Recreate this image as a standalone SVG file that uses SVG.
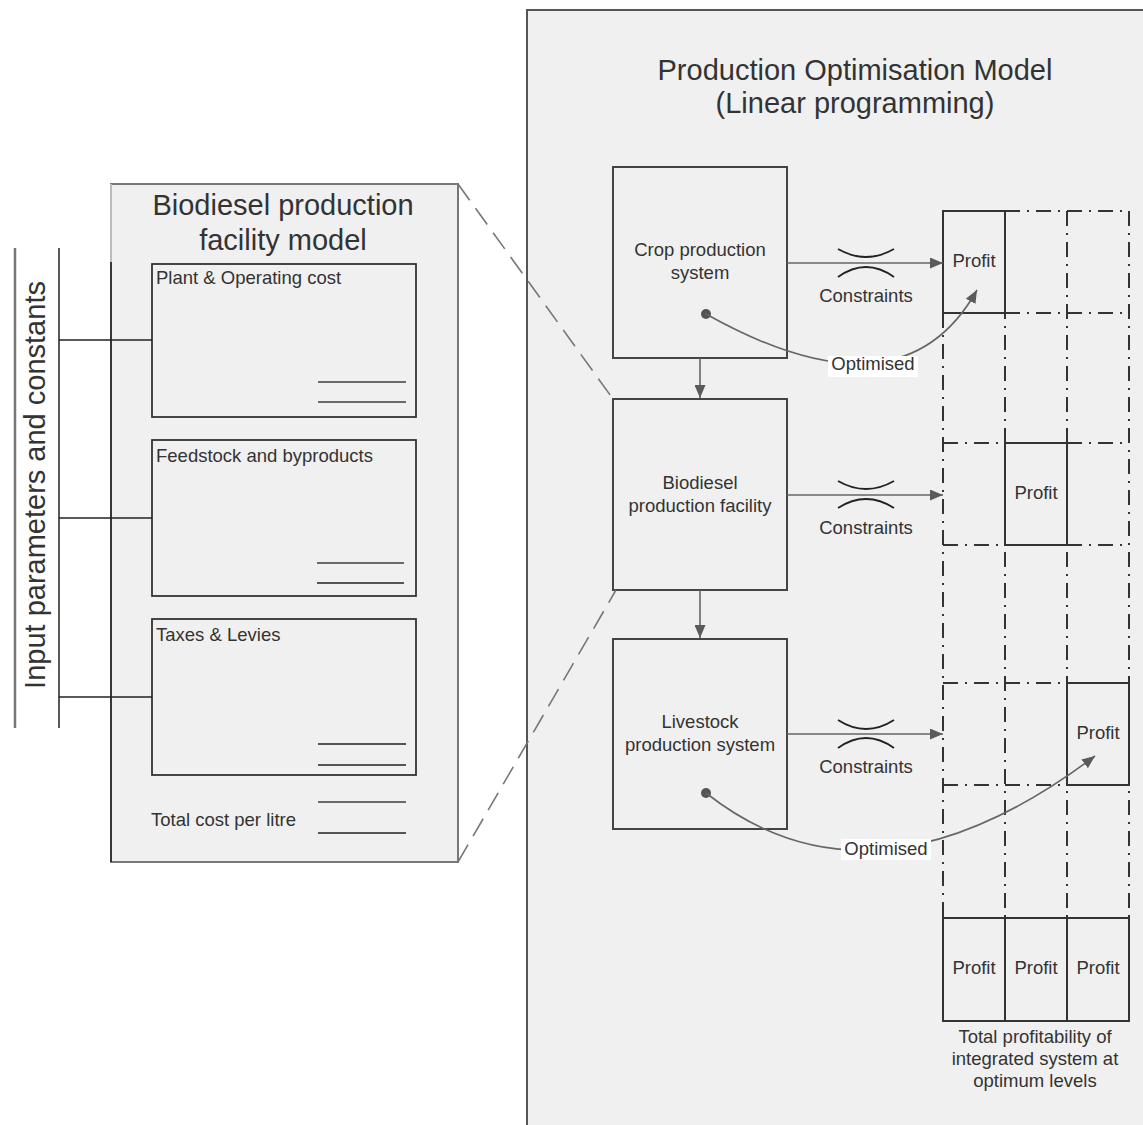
<svg xmlns="http://www.w3.org/2000/svg" width="1143" height="1125" viewBox="0 0 1143 1125">
<style>
text{font-family:"Liberation Sans",Arial,sans-serif;fill:#333}
.t{font-size:29px}
.s{font-size:18.5px}
.m{text-anchor:middle}
.box{fill:#f0f0f0;stroke:#444;stroke-width:2}
.sol{fill:none;stroke:#333;stroke-width:2}
.dd{fill:none;stroke:#333;stroke-width:2;stroke-dasharray:15 7 2 7}
.arr{fill:none;stroke:#666;stroke-width:1.6}
.arc{fill:none;stroke:#222;stroke-width:1.8}
.ln{stroke:#222;stroke-width:1.5}
.gl{stroke:#6a6a6a;stroke-width:2}
.zoomline{fill:none;stroke:#777;stroke-width:1.6;stroke-dasharray:20 10}
</style>
<defs>
<marker id="ah" viewBox="0 0 13 11" refX="13" refY="5.5" markerWidth="13" markerHeight="11" markerUnits="userSpaceOnUse" orient="auto">
<path d="M0,0 L13,5.5 L0,11 z" fill="#5a5a5a"/>
</marker>
</defs>
<rect width="1143" height="1125" fill="#fff"/>

<g id="optimisation-model">
<rect x="527" y="10" width="640" height="1130" fill="#f0f0f0" stroke="#555" stroke-width="2"/>
<text class="t m" x="855" y="80">Production Optimisation Model</text>
<text class="t m" x="855" y="113">(Linear programming)</text>
</g>

<g id="input-parameters">
<line x1="15" y1="248" x2="15" y2="728" stroke="#777" stroke-width="2.5"/>
<line x1="59" y1="248" x2="59" y2="728" class="ln"/>
<text class="t m" transform="translate(45,485) rotate(-90)">Input parameters and constants</text>
</g>

<g id="facility-model">
<rect x="111" y="184" width="347" height="678" fill="#f0f0f0" stroke="#777" stroke-width="2"/>
<line x1="111" y1="184" x2="111" y2="262" stroke="#bbb" stroke-width="2"/>
<line x1="111" y1="262" x2="111" y2="862" class="ln"/>
<text class="t m" x="283" y="215">Biodiesel production</text>
<text class="t m" x="283" y="250">facility model</text>
</g>

<g id="plant-cost">
<rect x="152" y="264" width="264" height="153" fill="none" stroke="#333" stroke-width="1.8"/>
<text class="s" x="156" y="284">Plant &amp; Operating cost</text>
<line x1="318" y1="382" x2="406" y2="382" class="gl"/>
<line x1="318" y1="402" x2="406" y2="402" class="gl"/>
</g>

<g id="feedstock">
<rect x="152" y="440" width="264" height="156" fill="none" stroke="#333" stroke-width="1.8"/>
<text class="s" x="156" y="462">Feedstock and byproducts</text>
<line x1="317" y1="563" x2="404" y2="563" class="gl"/>
<line x1="317" y1="583" x2="404" y2="583" class="ln"/>
</g>

<g id="taxes">
<rect x="152" y="619" width="264" height="156" fill="none" stroke="#333" stroke-width="1.8"/>
<text class="s" x="156" y="641">Taxes &amp; Levies</text>
<line x1="318" y1="744" x2="406" y2="744" class="ln"/>
<line x1="318" y1="765" x2="406" y2="765" class="ln"/>
</g>

<g id="total-cost">
<text class="s" x="151" y="826">Total cost per litre</text>
<line x1="318" y1="802" x2="406" y2="802" class="gl"/>
<line x1="318" y1="833" x2="406" y2="833" class="ln"/>
</g>

<g id="crop">
<rect class="box" x="613" y="167" width="174" height="191"/>
<text class="s m" x="700" y="256">Crop production</text>
<text class="s m" x="700" y="279">system</text>
</g>

<g id="biodiesel">
<rect class="box" x="613" y="399" width="174" height="191"/>
<text class="s m" x="700" y="489">Biodiesel</text>
<text class="s m" x="700" y="512">production facility</text>
</g>

<g id="livestock">
<rect class="box" x="613" y="639" width="174" height="190"/>
<text class="s m" x="700" y="728">Livestock</text>
<text class="s m" x="700" y="751">production system</text>
</g>

<g id="profit-grid">
<line class="dd" x1="943" y1="313" x2="943" y2="917"/>
<line class="dd" x1="1005" y1="211" x2="1005" y2="917"/>
<line class="dd" x1="1067" y1="211" x2="1067" y2="917"/>
<line class="dd" x1="1129" y1="211" x2="1129" y2="917"/>
<line class="dd" x1="1005" y1="211" x2="1129" y2="211"/>
<line class="dd" x1="1005" y1="313" x2="1129" y2="313"/>
<line class="dd" x1="943" y1="443" x2="1129" y2="443"/>
<line class="dd" x1="943" y1="545" x2="1129" y2="545"/>
<line class="dd" x1="943" y1="683" x2="1129" y2="683"/>
<line class="dd" x1="943" y1="785" x2="1129" y2="785"/>
</g>

<g id="profit-crop">
<rect class="sol" x="943" y="211" width="62" height="102"/>
<text class="s m" x="974" y="267">Profit</text>
</g>
<g id="profit-biodiesel">
<rect class="sol" x="1005" y="443" width="62" height="102"/>
<text class="s m" x="1036" y="499">Profit</text>
</g>
<g id="profit-livestock">
<rect class="sol" x="1067" y="683" width="62" height="102"/>
<text class="s m" x="1098" y="739">Profit</text>
</g>

<g id="profit-total">
<rect class="sol" x="943" y="918" width="62" height="103"/>
<rect class="sol" x="1005" y="918" width="62" height="103"/>
<rect class="sol" x="1067" y="918" width="62" height="103"/>
<text class="s m" x="974" y="974">Profit</text>
<text class="s m" x="1036" y="974">Profit</text>
<text class="s m" x="1098" y="974">Profit</text>
<text class="s m" x="1035" y="1043">Total profitability of</text>
<text class="s m" x="1035" y="1065">integrated system at</text>
<text class="s m" x="1035" y="1087">optimum levels</text>
</g>

<g id="connectors">
<line x1="59" y1="340" x2="152" y2="340" class="ln"/>
<line x1="59" y1="518" x2="152" y2="518" class="ln"/>
<line x1="59" y1="697" x2="152" y2="697" class="ln"/>
<line class="zoomline" x1="458" y1="184" x2="613" y2="399"/>
<line class="zoomline" x1="458" y1="862" x2="616" y2="590"/>

<line class="arr" x1="700" y1="358" x2="700" y2="398" marker-end="url(#ah)"/>
<line class="arr" x1="700" y1="590" x2="700" y2="638" marker-end="url(#ah)"/>

<line class="arr" x1="787" y1="263" x2="943" y2="263" marker-end="url(#ah)"/>
<line class="arr" x1="787" y1="495" x2="943" y2="495" marker-end="url(#ah)"/>
<line class="arr" x1="787" y1="734" x2="943" y2="734" marker-end="url(#ah)"/>

<path class="arc" d="M838,249 Q866,265 894,249"/>
<path class="arc" d="M838,277 Q866,257 894,277"/>
<path class="arc" d="M838,481 Q866,497 894,481"/>
<path class="arc" d="M838,508 Q866,490 894,508"/>
<path class="arc" d="M838,720 Q866,738 894,720"/>
<path class="arc" d="M838,748 Q866,728 894,748"/>
<text class="s m" x="866" y="302">Constraints</text>
<text class="s m" x="866" y="534">Constraints</text>
<text class="s m" x="866" y="773">Constraints</text>

<circle cx="706" cy="314" r="5" fill="#555"/>
<path class="arr" d="M706,314 Q902,424 977,290" marker-end="url(#ah)"/>
<rect x="828" y="356" width="90" height="21" fill="#fff"/>
<text class="s m" x="873" y="370">Optimised</text>

<circle cx="706" cy="793" r="5" fill="#555"/>
<path class="arr" d="M706,793 Q872,924 1095,756" marker-end="url(#ah)"/>
<rect x="841" y="839" width="90" height="21" fill="#fff"/>
<text class="s m" x="886" y="855">Optimised</text>
</g>
</svg>
